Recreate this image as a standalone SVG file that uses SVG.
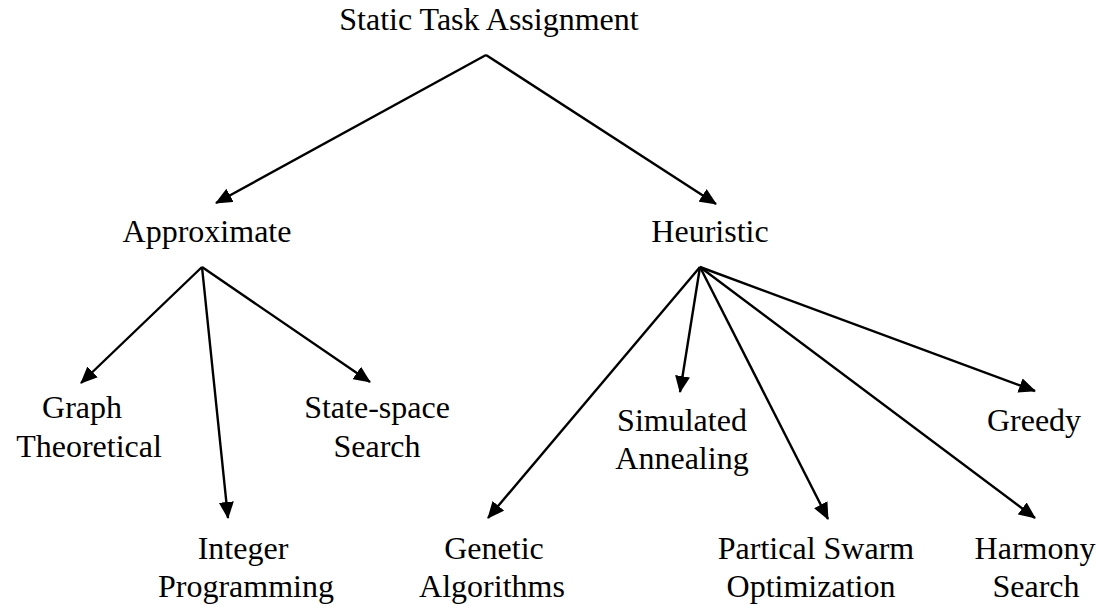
<svg xmlns="http://www.w3.org/2000/svg" width="1102" height="605" viewBox="0 0 1102 605">
<defs>
<style>
text{font-family:"Liberation Serif","Times New Roman",serif;font-size:32px;fill:#000;text-anchor:middle}
line{stroke:#000;stroke-width:2.4}
</style>
<marker id="ah" viewBox="0 0 17 15" refX="16" refY="7.5" markerWidth="17" markerHeight="15" markerUnits="userSpaceOnUse" orient="auto">
<path d="M0,0 L17,7.5 L0,15 z" fill="#000"/>
</marker>
</defs>
<rect width="1102" height="605" fill="#fff"/>
<g id="connectors">
<line x1="486" y1="55" x2="216" y2="203" marker-end="url(#ah)"/>
<line x1="486" y1="55" x2="716" y2="204" marker-end="url(#ah)"/>
<line x1="202" y1="267" x2="81" y2="383" marker-end="url(#ah)"/>
<line x1="202" y1="267" x2="228" y2="518" marker-end="url(#ah)"/>
<line x1="202" y1="267" x2="370" y2="382" marker-end="url(#ah)"/>
<line x1="700" y1="267" x2="488" y2="518" marker-end="url(#ah)"/>
<line x1="700" y1="267" x2="680" y2="392" marker-end="url(#ah)"/>
<line x1="700" y1="267" x2="828" y2="519" marker-end="url(#ah)"/>
<line x1="700" y1="267" x2="1035" y2="518" marker-end="url(#ah)"/>
<line x1="700" y1="267" x2="1035" y2="391" marker-end="url(#ah)"/>
</g>
<g id="root"><text x="489" y="30">Static Task Assignment</text></g>
<g id="approximate"><text x="207" y="242">Approximate</text></g>
<g id="heuristic"><text x="710" y="242">Heuristic</text></g>
<g id="graph"><text x="82" y="418">Graph</text><text x="89" y="457">Theoretical</text></g>
<g id="integer"><text x="243" y="559">Integer</text><text x="246" y="597">Programming</text></g>
<g id="statespace"><text x="377" y="418">State-space</text><text x="377" y="457">Search</text></g>
<g id="genetic"><text x="494" y="559">Genetic</text><text x="492" y="597">Algorithms</text></g>
<g id="simulated"><text x="682" y="431">Simulated</text><text x="682" y="469">Annealing</text></g>
<g id="pso"><text x="816" y="559">Partical Swarm</text><text x="811" y="597">Optimization</text></g>
<g id="harmony"><text x="1035" y="559">Harmony</text><text x="1036" y="597">Search</text></g>
<g id="greedy"><text x="1034" y="431">Greedy</text></g>
</svg>
